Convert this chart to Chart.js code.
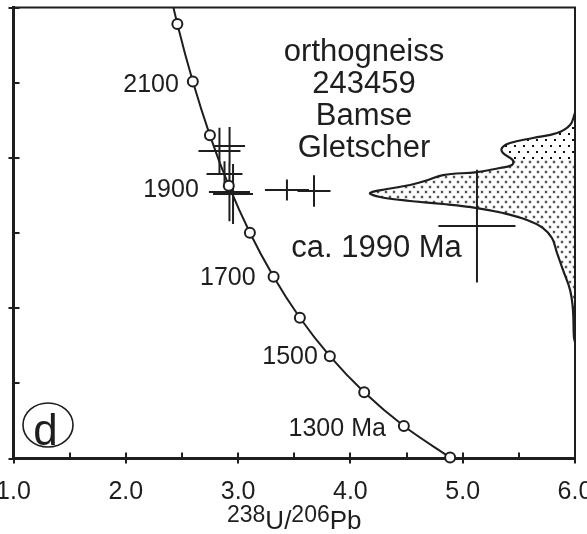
<!DOCTYPE html>
<html>
<head>
<meta charset="utf-8">
<script src="https://cdn.jsdelivr.net/npm/chart.js@4.4.1/dist/chart.umd.min.js"></script>
<style>
  html, body { margin: 0; padding: 0; background: #fff; }
  canvas { display: block; }
</style>
</head>
<body>
<canvas id="c" width="587" height="534"></canvas>
<script>
// Concordia curve: reference ages (Ma) and their Tera-Wasserburg coordinates
const concordiaAge = [2300, 2200, 2100, 2000, 1900, 1800, 1700, 1600, 1500, 1400, 1300, 1200];
const concordiaU238Pb206 = [2.332, 2.459, 2.597, 2.749, 2.917, 3.105, 3.316, 3.550, 3.817, 4.123, 4.476, 4.888];
const concordiaPb207Pb206 = [0.14604, 0.13782, 0.13015, 0.12299, 0.11629, 0.11004, 0.10418, 0.09872, 0.09361, 0.08881, 0.08432, 0.08013];

// Ages that carry a text label on the concordia
const labelledAges = [2100, 1900, 1700, 1500, 1300];
const labelledAgeText = ['2100', '1900', '1700', '1500', '1300 Ma'];

// Zircon spot analyses (ratio and 1-sigma half-widths of the error crosses)
const spotU238Pb206 = [2.924, 2.834, 2.879, 2.923, 2.955, 3.435, 3.676, 5.127];
const spotU238Pb206Err = [0.138, 0.187, 0.160, 0.183, 0.178, 0.196, 0.147, 0.343];
const spotPb207Pb206 = [0.12157, 0.12091, 0.11785, 0.11545, 0.11519, 0.11572, 0.11559, 0.11093];
const spotPb207Pb206Err = [0.00253, 0.00310, 0.00170, 0.00390, 0.00400, 0.00140, 0.00210, 0.00750];

// 207Pb/206Pb age probability curve, traced along the right-hand axis
const densityX = [6.000, 5.956, 5.840, 5.626, 5.421, 5.350, 5.359, 5.445, 5.439, 5.332, 5.127, 4.825,
                  4.691, 4.531, 4.326, 4.175, 4.264, 4.531, 4.825, 5.127, 5.359, 5.573, 5.715, 5.795,
                  5.840, 5.893, 5.956, 5.982, 5.990, 6.000];
const densityY = [0.12596, 0.12437, 0.12330, 0.12264, 0.12197, 0.12131, 0.12064, 0.11971, 0.11905, 0.11865, 0.11811, 0.11771,
                  0.11705, 0.11638, 0.11585, 0.11532, 0.11479, 0.11426, 0.11386, 0.11332, 0.11266, 0.11173, 0.11066, 0.10933,
                  0.10734, 0.10508, 0.10242, 0.09976, 0.09616, 0.09550];
const densitySplit = 7; // boundary between the coarse and fine stipple

// Axis ticks and texts
const xTickLabels = ['1.0', '2.0', '3.0', '4.0', '5.0', '6.0'];
const xAxisTitle = [['238', true], ['U/', false], ['206', true], ['Pb', false]];
const sampleText = ['orthogneiss', '243459', 'Bamse', 'Gletscher'];
const ageText = 'ca. 1990 Ma';
const panelLetter = 'd';

const INK = '#1e1e1e';
const FONT = "'Liberation Sans', Arial, Helvetica, sans-serif";

const canvas = document.getElementById('c');
const mainCtx = canvas.getContext('2d');

// Stipple patterns for the probability curve
function dotPattern(w, h, draw) {
  const c = document.createElement('canvas');
  c.width = w; c.height = h;
  draw(c.getContext('2d'));
  return mainCtx.createPattern(c, 'repeat');
}
const fineStipple = dotPattern(8, 10, g => {
  [[2, 2], [6, 7]].forEach(([x, y]) => {
    g.fillStyle = 'rgba(0,0,0,0.18)';
    g.beginPath(); g.arc(x, y, 1.9, 0, Math.PI * 2); g.fill();
    g.fillStyle = '#2a2a2a';
    g.beginPath(); g.arc(x, y, 1.0, 0, Math.PI * 2); g.fill();
  });
});
const coarseStipple = dotPattern(9, 12, g => {
  g.fillStyle = '#111';
  g.fillRect(1, 1, 2, 2);
  g.fillRect(5, 7, 2, 2);
});

const pts = (xs, ys) => xs.map((x, i) => ({ x, y: ys[i] }));

const concordiaLine = pts(concordiaU238Pb206, concordiaPb207Pb206);
const concordiaDots = concordiaLine.filter((p, i) => concordiaAge[i] <= 2200);

const crossPath = [];
spotU238Pb206.forEach((x, i) => {
  const y = spotPb207Pb206[i], ex = spotU238Pb206Err[i], ey = spotPb207Pb206Err[i];
  crossPath.push({ x: x - ex, y }, { x: x + ex, y }, { x, y: null },
                 { x, y: y + ey }, { x, y: y - ey }, { x, y: null });
});

const densityOutline = pts(densityX, densityY);
const densityUpper = densityOutline.slice(0, densitySplit + 1)
  .concat([{ x: 6, y: densityY[densitySplit] }]);
const densityLower = [{ x: 6, y: densityY[densitySplit] }]
  .concat(densityOutline.slice(densitySplit));

const isMajorY = v => Math.round(v * 100) % 2 === 0;
const isMajorX = v => Math.abs(v - Math.round(v)) < 1e-6;

// Frame, ticks and text
const decorations = {
  id: 'decorations',
  afterDatasetsDraw(chart) {
    const { ctx, chartArea: a, scales: { x: xs, y: ys } } = chart;
    ctx.save();
    ctx.strokeStyle = INK;
    ctx.fillStyle = INK;

    // top and right frame lines
    ctx.lineWidth = 2;
    ctx.beginPath();
    ctx.moveTo(a.left, a.top); ctx.lineTo(a.right, a.top); ctx.lineTo(a.right, a.bottom);
    ctx.stroke();

    // ticks: every tick points inward, the major ones also cross the axis
    ctx.lineWidth = 2;
    ctx.beginPath();
    xs.ticks.forEach(t => {
      const px = Math.round(xs.getPixelForValue(t.value));
      const out = isMajorX(t.value) ? 5 : 0;
      ctx.moveTo(px, a.bottom + out); ctx.lineTo(px, a.bottom - 6);
    });
    ys.ticks.forEach(t => {
      const py = Math.round(ys.getPixelForValue(t.value));
      const out = isMajorY(t.value) ? 5 : 0;
      ctx.moveTo(a.left - out, py); ctx.lineTo(a.left + 6, py);
    });
    ctx.stroke();

    // age labels on the concordia
    const labelOffset = { 2100: [-14, 10], 1900: [-30, 11], 1700: [-18, 8], 1500: [-12, 8], 1300: [-18, 10] };
    ctx.font = `25px ${FONT}`;
    ctx.textAlign = 'right';
    ctx.textBaseline = 'alphabetic';
    labelledAges.forEach((age, i) => {
      const k = concordiaAge.indexOf(age);
      const px = xs.getPixelForValue(concordiaU238Pb206[k]);
      const py = ys.getPixelForValue(concordiaPb207Pb206[k]);
      const [dx, dy] = labelOffset[age];
      ctx.fillText(labelledAgeText[i], px + dx, py + dy);
    });

    // sample description
    ctx.font = `31px ${FONT}`;
    ctx.textAlign = 'center';
    sampleText.forEach((line, i) => {
      ctx.fillText(line, a.left + 350.5, a.top + 53.5 + i * 32);
    });
    ctx.fillText(ageText, a.left + 363, a.top + 249.5);

    // panel letter in an ellipse
    ctx.lineWidth = 1.6;
    ctx.beginPath();
    ctx.ellipse(a.left + 34.5, a.bottom - 33.5, 25, 22, 0, 0, Math.PI * 2);
    ctx.stroke();
    ctx.font = `44px ${FONT}`;
    ctx.fillText(panelLetter, a.left + 32, a.bottom - 13.5);

    // x-axis title with superscript mass numbers
    const supFont = `23px ${FONT}`, mainFont = `26px ${FONT}`;
    let total = 0;
    xAxisTitle.forEach(([t, sup]) => { ctx.font = sup ? supFont : mainFont; total += ctx.measureText(t).width; });
    let cx = (a.left + a.right) / 2 - total / 2;
    const base = 529;
    ctx.textAlign = 'left';
    xAxisTitle.forEach(([t, sup]) => {
      ctx.font = sup ? supFont : mainFont;
      ctx.fillText(t, cx, sup ? base - 7 : base);
      cx += ctx.measureText(t).width;
    });
    ctx.restore();
  }
};

new Chart(mainCtx, {
  type: 'line',
  data: {
    datasets: [
      {
        label: 'concordia ages',
        data: concordiaDots,
        showLine: false,
        pointRadius: 5,
        pointBorderWidth: 2,
        pointBackgroundColor: '#fff',
        pointBorderColor: INK,
        clip: false,
        order: 0
      },
      {
        label: 'concordia',
        data: concordiaLine,
        borderColor: INK,
        borderWidth: 2,
        pointRadius: 0,
        cubicInterpolationMode: 'monotone',
        fill: false,
        order: 1
      },
      {
        label: 'spots',
        data: crossPath,
        borderColor: INK,
        borderWidth: 2,
        pointRadius: 0,
        spanGaps: false,
        fill: false,
        order: 2
      },
      {
        label: 'probability outline',
        data: densityOutline,
        borderColor: INK,
        borderWidth: 2.2,
        pointRadius: 0,
        tension: 0.4,
        fill: false,
        order: 3
      },
      {
        label: 'probability upper',
        data: densityUpper,
        borderWidth: 0,
        borderColor: 'rgba(0,0,0,0)',
        backgroundColor: coarseStipple,
        pointRadius: 0,
        tension: 0.4,
        fill: 'shape',
        order: 4
      },
      {
        label: 'probability lower',
        data: densityLower,
        borderWidth: 0,
        borderColor: 'rgba(0,0,0,0)',
        backgroundColor: fineStipple,
        pointRadius: 0,
        tension: 0.4,
        fill: 'shape',
        order: 5
      }
    ]
  },
  options: {
    responsive: false,
    animation: false,
    events: [],
    layout: { padding: { top: 7.5, right: 12, left: 0, bottom: 0 }, autoPadding: false },
    plugins: { legend: { display: false }, tooltip: { enabled: false }, title: { display: false } },
    scales: {
      x: {
        type: 'linear',
        min: 1, max: 6,
        afterFit: s => { s.height = 75.5; s.paddingLeft = 0; s.paddingRight = 0; },
        ticks: {
          stepSize: 0.5,
          autoSkip: false,
          maxRotation: 0,
          padding: 19,
          color: INK,
          font: { family: FONT, size: 25 },
          callback: v => isMajorX(v) ? xTickLabels[Math.round(v) - 1] : ''
        },
        grid: { display: false, drawOnChartArea: false, drawTicks: false, tickLength: 6 },
        border: { display: true, width: 3, color: INK }
      },
      y: {
        type: 'linear',
        min: 0.08, max: 0.14,
        afterFit: s => { s.width = 13.5; s.paddingTop = 0; s.paddingBottom = 0; },
        ticks: { stepSize: 0.01, display: false },
        grid: { display: false, drawOnChartArea: false, drawTicks: false },
        border: { display: true, width: 3, color: INK }
      }
    }
  },
  plugins: [decorations]
});
</script>
</body>
</html>
